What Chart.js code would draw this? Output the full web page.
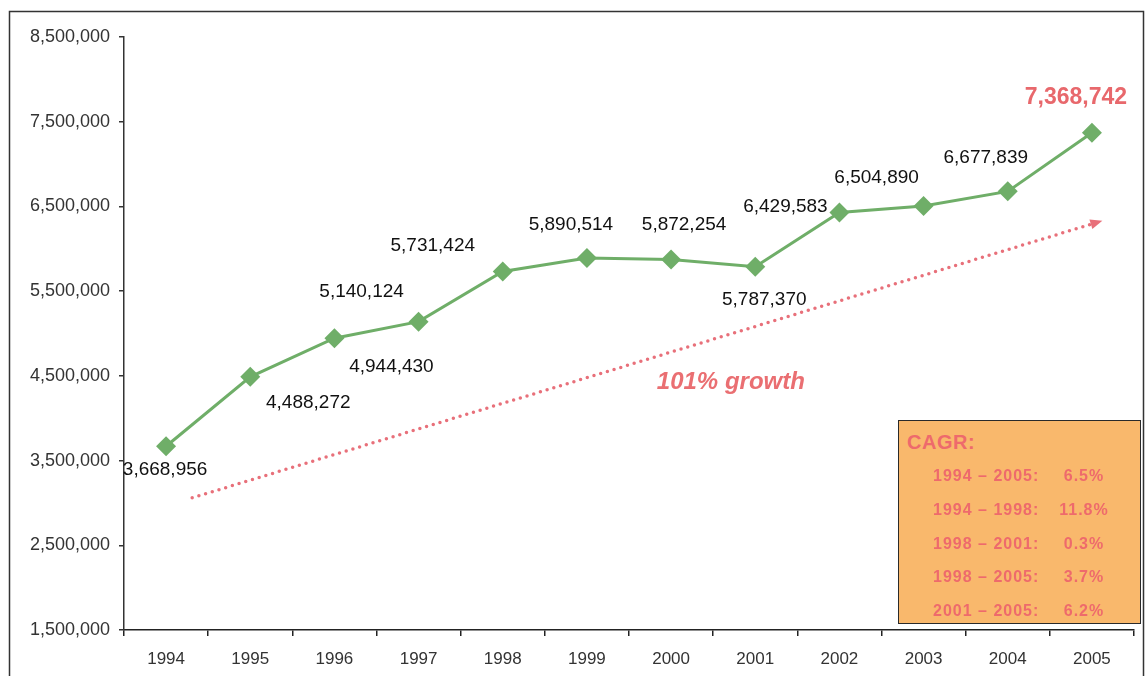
<!DOCTYPE html>
<html>
<head>
<meta charset="utf-8">
<title>Passengers 1994-2005</title>
<script src="https://cdn.jsdelivr.net/npm/chart.js@4.4.1/dist/chart.umd.min.js"></script>
<style>
  html, body { margin: 0; padding: 0; background: #fff; }
  #wrap { position: relative; width: 1148px; height: 676px; overflow: hidden; }
  #cagr {
    position: absolute; left: 898px; top: 420px; width: 241px; height: 202px;
    background: #f9b86c; border: 1.5px solid #2a2a2a;
    font-family: Arial, "Liberation Sans", sans-serif; color: #ee6a6c;
  }
  #cagr .title { position: absolute; left: 8px; top: 10px; font-weight: bold; font-size: 20px; letter-spacing: 0.5px; }
  #cagr .row { position: absolute; left: 0; width: 241px; height: 20px; line-height: 20px; font-weight: bold; font-size: 16px; letter-spacing: 1px; filter: blur(0.5px); }
  #cagr .period { position: absolute; left: 34px; }
  #cagr .rate { position: absolute; left: 153px; width: 64px; text-align: center; }
</style>
</head>
<body>
<div id="wrap">
  <canvas id="chart" width="1148" height="676"></canvas>
  <div id="cagr"><div class="title">CAGR:</div></div>
</div>
<script>
// yearly totals
const years = ['1994', '1995', '1996', '1997', '1998', '1999', '2000', '2001', '2002', '2003', '2004', '2005'];
const totals = [3668956, 4488272, 4944430, 5140124, 5731424, 5890514, 5872254, 5787370, 6429583, 6504890, 6677839, 7368742];

// dotted trend arrow, in axis units (category index, value)
const trendX = [0.31, 11.09];
const trendY = [3060000, 6320000];
const growthLabel = '101% growth';
const growthAt = [6.71, 4420000];

// compound annual growth rates
const cagrPeriods = ['1994 – 2005:', '1994 – 1998:', '1998 – 2001:', '1998 – 2005:', '2001 – 2005:'];
const cagrRates = ['6.5%', '11.8%', '0.3%', '3.7%', '6.2%'];

// where each value label sits relative to its point (px)
const labelOffsets = [[-1, 24], [58, 26], [57, 29], [-57, -30], [-70, -26], [-16, -33],
                      [13, -35], [9, 33], [-54, -6], [-47, -28], [-22, -34], [-16, -35]];

const FONT = 'Arial, "Liberation Sans", sans-serif';
const fmt = v => Number(v).toLocaleString('en-US');

// CAGR box
const box = document.getElementById('cagr');
cagrPeriods.forEach((p, i) => {
    const row = document.createElement('div');
    row.className = 'row';
    row.style.top = (45 + i * 33.8) + 'px';
    row.innerHTML = '<span class="period"></span><span class="rate"></span>';
    row.querySelector('.period').textContent = p;
    row.querySelector('.rate').textContent = cagrRates[i];
    box.appendChild(row);
});

const framePlugin = {
    id: 'frame',
    beforeDraw(chart) {
        const ctx = chart.ctx;
        ctx.save();
        ctx.fillStyle = '#fff';
        ctx.fillRect(0, 0, chart.width, chart.height);
        ctx.strokeStyle = '#333';
        ctx.lineWidth = 1.5;
        ctx.beginPath();
        ctx.moveTo(9.5, chart.height);
        ctx.lineTo(9.5, 11.5);
        ctx.lineTo(1143.5, 11.5);
        ctx.lineTo(1143.5, chart.height);
        ctx.stroke();
        ctx.restore();
    }
};

const trendPlugin = {
    id: 'trend',
    afterDatasetsDraw(chart) {
        const { ctx, scales: { x, y } } = chart;
        const x0 = x.getPixelForValue(trendX[0]), y0 = y.getPixelForValue(trendY[0]);
        const x1 = x.getPixelForValue(trendX[1]), y1 = y.getPixelForValue(trendY[1]);
        const ang = Math.atan2(y1 - y0, x1 - x0);
        ctx.save();
        ctx.strokeStyle = '#e8707a';
        ctx.fillStyle = '#e8707a';
        ctx.lineWidth = 3.5;
        ctx.lineCap = 'round';
        ctx.setLineDash([0, 7]);
        ctx.beginPath();
        ctx.moveTo(x0, y0);
        ctx.lineTo(x1 - 6 * Math.cos(ang), y1 - 6 * Math.sin(ang));
        ctx.stroke();
        ctx.setLineDash([]);
        ctx.translate(x1, y1);
        ctx.rotate(ang);
        ctx.beginPath();
        ctx.moveTo(3, 0);
        ctx.lineTo(-9, -5);
        ctx.lineTo(-9, 5);
        ctx.closePath();
        ctx.fill();
        ctx.restore();

        ctx.save();
        ctx.font = 'italic bold 24px ' + FONT;
        ctx.fillStyle = '#ea6f72';
        ctx.textAlign = 'center';
        ctx.textBaseline = 'middle';
        ctx.fillText(growthLabel, x.getPixelForValue(growthAt[0]), y.getPixelForValue(growthAt[1]));
        ctx.restore();
    }
};

const valueLabels = {
    id: 'valueLabels',
    afterDatasetsDraw(chart) {
        const ctx = chart.ctx;
        const pts = chart.getDatasetMeta(0).data;
        const last = pts.length - 1;
        ctx.save();
        ctx.textAlign = 'center';
        ctx.textBaseline = 'middle';
        pts.forEach((pt, i) => {
            const [dx, dy] = labelOffsets[i];
            if (i === last) {
                ctx.font = 'bold 23px ' + FONT;
                ctx.fillStyle = '#e8686c';
            } else {
                ctx.font = '19px ' + FONT;
                ctx.fillStyle = '#111';
            }
            ctx.fillText(fmt(totals[i]), pt.x + dx, pt.y + dy);
        });
        ctx.restore();
    }
};

new Chart(document.getElementById('chart'), {
    type: 'line',
    data: {
        labels: years,
        datasets: [{
            data: totals,
            borderColor: '#6fae68',
            backgroundColor: '#6fae68',
            borderWidth: 3,
            pointStyle: 'rectRot',
            pointRadius: 10,
            pointHoverRadius: 10,
            pointBorderWidth: 0,
            tension: 0
        }]
    },
    options: {
        responsive: false,
        animation: false,
        layout: { padding: { top: 37, right: 14, left: 0, bottom: 0 } },
        plugins: {
            legend: { display: false },
            tooltip: { enabled: false }
        },
        scales: {
            x: {
                offset: true,
                grid: { offset: true, drawOnChartArea: false, tickLength: 6, color: '#222', lineWidth: 1.5 },
                border: { color: '#222', width: 1.5 },
                ticks: { color: '#333', font: { family: FONT, size: 17 }, padding: 13, maxRotation: 0 },
                afterFit: s => { s.height = 46; }
            },
            y: {
                min: 1500000,
                max: 8500000,
                grid: { drawOnChartArea: false, tickLength: 5, color: '#333', lineWidth: 1.5 },
                border: { color: '#333', width: 1.5 },
                ticks: {
                    stepSize: 1000000,
                    color: '#333',
                    font: { family: FONT, size: 18 },
                    padding: 9,
                    callback: v => fmt(v)
                },
                afterFit: s => { s.width = 124; }
            }
        }
    },
    plugins: [framePlugin, trendPlugin, valueLabels]
});
</script>
</body>
</html>
